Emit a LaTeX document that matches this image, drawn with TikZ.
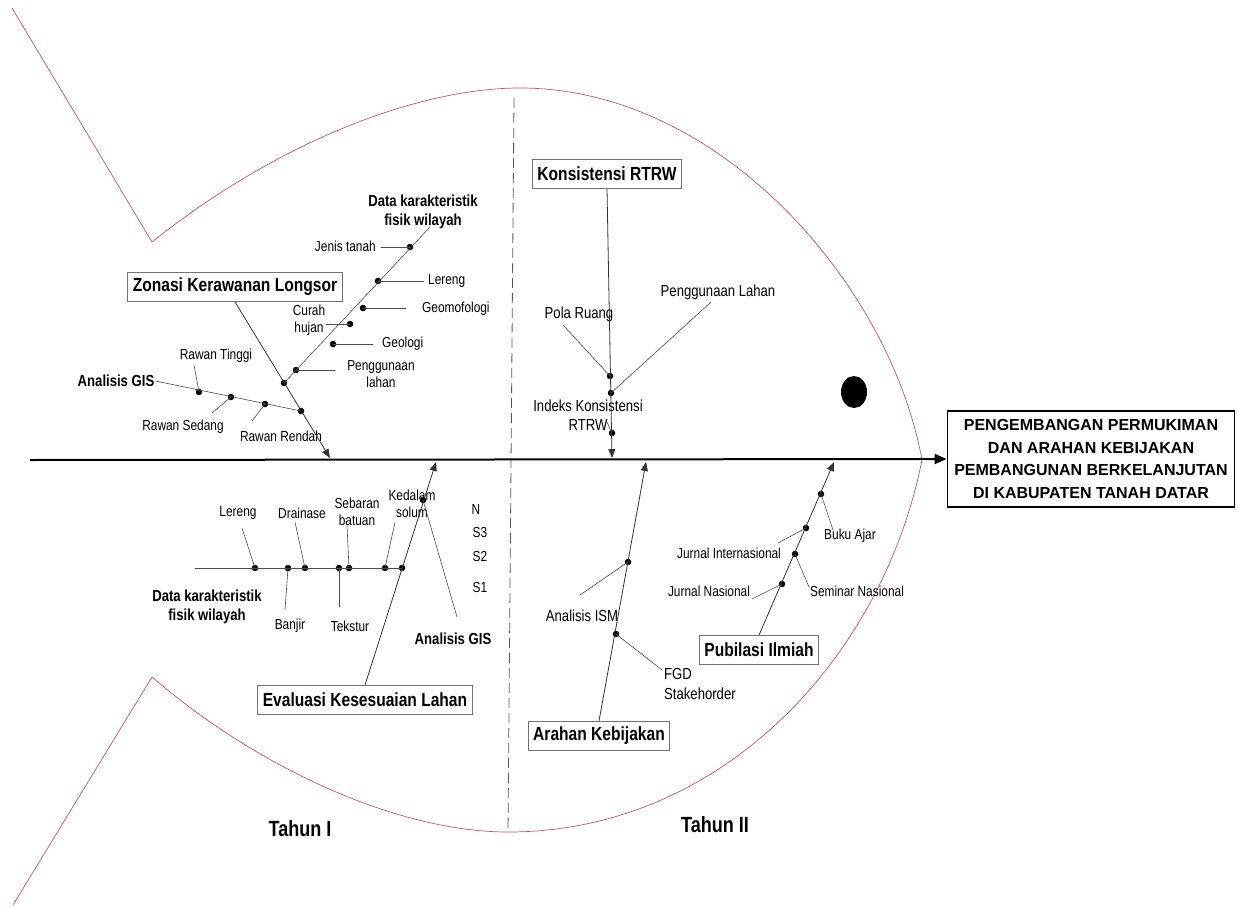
\documentclass[tikz,border=0pt]{standalone}
\usepackage{fontspec}
\setmainfont{Liberation Sans}
\newfontfamily\sempit{Liberation Sans}[FakeStretch=0.82]
\usetikzlibrary{arrows.meta}
\definecolor{sisik}{RGB}{200,85,90}
\tikzset{
  ket/.style={font=\sempit\fontsize{14.5}{17.5}\selectfont, align=center, inner sep=1pt},
  ketb/.style={ket, font=\sempit\fontsize{16}{19.5}\selectfont},
  judul/.style={font=\sempit\bfseries\fontsize{16}{19}\selectfont, align=center, inner sep=1pt},
  tahun/.style={font=\sempit\bfseries\fontsize{22}{24}\selectfont},
  kotak/.style={draw=black!55, line width=0.9pt, fill=white, minimum height=29pt,
    inner xsep=5pt, font=\sempit\bfseries\fontsize{19}{22}\selectfont},
  titik/.style={circle, fill=black, inner sep=0pt, minimum size=6.5pt},
  cabang/.style={draw=black!70, line width=0.6pt},
  tulang/.style={draw=black!80, line width=0.8pt, -{Triangle[length=9pt,width=7pt]}},
}
\begin{document}
\begin{tikzpicture}[x=1pt,y=-1pt]
      \useasboundingbox (0,0) rectangle (1238,907);
      \draw[sisik, line width=0.7pt]
        (12,8) -- (152,242) .. controls (280,140) and (420,88) .. (520,88)
        .. controls (720,88) and (890,285) .. (922,460)
        .. controls (882,660) and (720,832) .. (508,832)
        .. controls (400,832) and (260,770) .. (152,677) -- (13,905);
      \coordinate (batasatas) at (514,98);
      \coordinate (batasbawah) at (508,832);
      \draw[black!65, line width=0.8pt, dash pattern=on 10pt off 5pt] (batasatas) -- (batasbawah);
      \fill (854,392) ellipse[x radius=13, y radius=16];
      \coordinate (ekor) at (30,460);
      \node[draw, line width=1.8pt, minimum width=287pt, minimum height=96pt, align=center,
        font=\bfseries\fontsize{16}{22.7}\selectfont] (kepala) at (1091,459)
        {PENGEMBANGAN PERMUKIMAN\\DAN ARAHAN KEBIJAKAN\\PEMBANGUNAN BERKELANJUTAN\\DI KABUPATEN TANAH DATAR};
      \draw[line width=2pt, -{Triangle[length=12pt,width=10pt]}] (ekor) -- (kepala.west);
      \node[tahun] (th1) at (300,829) {Tahun I};
      \node[tahun] (th2) at (715,825) {Tahun II};

      \node[kotak] (zonasi) at (235,287) {Zonasi Kerawanan Longsor};
      \coordinate (zonasiujung) at (330,458);
      \node[titik] (zd1) at (284,383) {};
      \node[titik] (zd2) at (301,411) {};
      \coordinate (dk1ujung) at (430,227);
      \node[judul] (dk1) at (423,212) {Data karakteristik\\fisik wilayah};
      \node[titik] (jenis) at (410,247) {};
      \node[titik] (lereng1) at (378,281) {};
      \node[titik] (geomo) at (363,308) {};
      \node[titik] (curah) at (350,324) {};
      \node[titik] (geologi) at (333,344) {};
      \node[titik] (guna1) at (296,370) {};
      \node[ket, anchor=east] (tjenis) at (377,246) {Jenis tanah};
      \node[ket, anchor=west] (tlereng1) at (427,281) {Lereng};
      \node[ket, anchor=west] (tgeomo) at (421,309) {Geomofologi};
      \node[ket] (tcurah) at (309,320) {Curah\\hujan};
      \node[ket, anchor=west] (tgeologi) at (381,344) {Geologi};
      \node[ket] (tguna1) at (381,374) {Penggunaan\\lahan};
      \coordinate (cjenis) at (381,247);
      \coordinate (clereng1) at (424,281);
      \coordinate (cgeomo) at (406,308);
      \coordinate (ccurah) at (326,324);
      \coordinate (cgeologi) at (373,344);
      \coordinate (cguna1) at (335,370);
      \node[judul] (gis1) at (116,381) {Analisis GIS};
      \node[titik] (tinggi) at (199,392) {};
      \node[titik] (sedang) at (231,397) {};
      \node[titik] (rendah) at (265,404) {};
      \node[ket] (ttinggi) at (216,356) {Rawan Tinggi};
      \node[ket] (tsedang) at (183,427) {Rawan Sedang};
      \node[ket] (trendah) at (281,436) {Rawan Rendah};
      \coordinate (ctinggi) at (194,365);
      \coordinate (csedang) at (212,413);
      \coordinate (crendah) at (252,421);

      \node[kotak] (evaluasi) at (365,700) {Evaluasi Kesesuaian Lahan};
      \coordinate (evaluasiujung) at (436,462);
      \node[titik] (ed1) at (402,568) {};
      \node[titik] (ed2) at (423,500) {};
      \coordinate (dk2awal) at (195,568);
      \node[judul] (dk2) at (207,607) {Data karakteristik\\fisik wilayah};
      \node[titik] (lereng2) at (255,568) {};
      \node[titik] (banjir) at (288,568) {};
      \node[titik] (drainase) at (305,568) {};
      \node[titik] (tekstur) at (339,568) {};
      \node[titik] (sebaran) at (349,568) {};
      \node[titik] (solum) at (385,568) {};
      \node[ket] (tlereng2) at (238,513) {Lereng};
      \node[ket] (tdrainase) at (302,513) {Drainase};
      \node[ket] (tsebaran) at (357,512) {Sebaran\\batuan};
      \node[ket] (tsolum) at (412,504) {Kedalam\\solum};
      \node[ket] (tbanjir) at (290,626) {Banjir};
      \node[ket] (ttekstur) at (350,626) {Tekstur};
      \coordinate (clereng2) at (242,528);
      \coordinate (cdrainase) at (295,522);
      \coordinate (csebaran) at (347,525);
      \coordinate (csolum) at (395,522);
      \coordinate (cbanjir) at (285,610);
      \coordinate (ctekstur) at (339,607);
      \node[judul] (gis2) at (453,639) {Analisis GIS};
      \coordinate (cgis2) at (457,617);
      \node[ket] (kn) at (476,510) {N};
      \node[ket] (ks3) at (480,533) {S3};
      \node[ket] (ks2) at (480,556) {S2};
      \node[ket] (ks1) at (480,587) {S1};

      \node[kotak] (rtrw) at (607,174) {Konsistensi RTRW};
      \coordinate (rtrwujung) at (612,458);
      \node[titik] (pola) at (610,376) {};
      \node[titik] (guna2) at (611,393) {};
      \node[titik] (indeks) at (612,433) {};
      \node[ketb] (tpola) at (579,314) {Pola Ruang};
      \node[ketb] (tguna2) at (718,292) {Penggunaan Lahan};
      \node[ketb] (tindeks) at (588,415) {Indeks Konsistensi\\RTRW};
      \coordinate (cpola) at (563,325);
      \coordinate (cguna2) at (711,302);
      \coordinate (cindeks) at (606,420);

      \node[kotak] (arahan) at (599,736) {Arahan Kebijakan};
      \coordinate (arahanujung) at (646,462);
      \node[titik] (ism) at (628,562) {};
      \node[titik] (fgd) at (616,634) {};
      \node[ketb] (tism) at (582,616) {Analisis ISM};
      \node[ketb, anchor=west, align=left] (tfgd) at (663,684) {FGD\\Stakehorder};
      \coordinate (cism) at (580,595);
      \coordinate (cfgd) at (662,670);

      \node[kotak] (publikasi) at (759,650) {Pubilasi Ilmiah};
      \coordinate (publikasiujung) at (834,462);
      \node[titik] (jnas) at (782,584) {};
      \node[titik] (snas) at (795,554) {};
      \node[titik] (jint) at (806,528) {};
      \node[titik] (buku) at (821,494) {};
      \node[ket] (tjnas) at (709,591) {Jurnal Nasional};
      \node[ket] (tsnas) at (857,591) {Seminar Nasional};
      \node[ket] (tjint) at (729,553) {Jurnal Internasional};
      \node[ket] (tbuku) at (850,536) {Buku Ajar};
      \coordinate (cjnas) at (752,599);
      \coordinate (csnas) at (809,587);
      \coordinate (cjint) at (778,543);
      \coordinate (cbuku) at (833,530);

      \begin{scope}[tulang]
        \draw (zonasi.south) to (zonasiujung);
        \draw (evaluasi.north) to (evaluasiujung);
        \draw (rtrw.south) to (rtrwujung);
        \draw (arahan.north) to (arahanujung);
        \draw (publikasi.north) to (publikasiujung);
      \end{scope}
      \begin{scope}[cabang]
        \draw (zd1.center) to (dk1ujung);
        \draw (jenis.center) to (cjenis);
        \draw (lereng1.center) to (clereng1);
        \draw (geomo.center) to (cgeomo);
        \draw (curah.center) to (ccurah);
        \draw (geologi.center) to (cgeologi);
        \draw (guna1.center) to (cguna1);
        \draw (gis1.east) to (zd2.center);
        \draw (tinggi.center) to (ctinggi);
        \draw (sedang.center) to (csedang);
        \draw (rendah.center) to (crendah);
        \draw (dk2awal) to (ed1.center);
        \draw (lereng2.center) to (clereng2);
        \draw (drainase.center) to (cdrainase);
        \draw (sebaran.center) to (csebaran);
        \draw (solum.center) to (csolum);
        \draw (banjir.center) to (cbanjir);
        \draw (tekstur.center) to (ctekstur);
        \draw (ed2.center) to (cgis2);
        \draw (cpola) to (pola.center);
        \draw (cguna2) to (guna2.center);
        \draw (cindeks) to (indeks.center);
        \draw (ism.center) to (cism);
        \draw (fgd.center) to (cfgd);
        \draw (jnas.center) to (cjnas);
        \draw (snas.center) to (csnas);
        \draw (jint.center) to (cjint);
        \draw (buku.center) to (cbuku);
      \end{scope}
\end{tikzpicture}
\end{document}
